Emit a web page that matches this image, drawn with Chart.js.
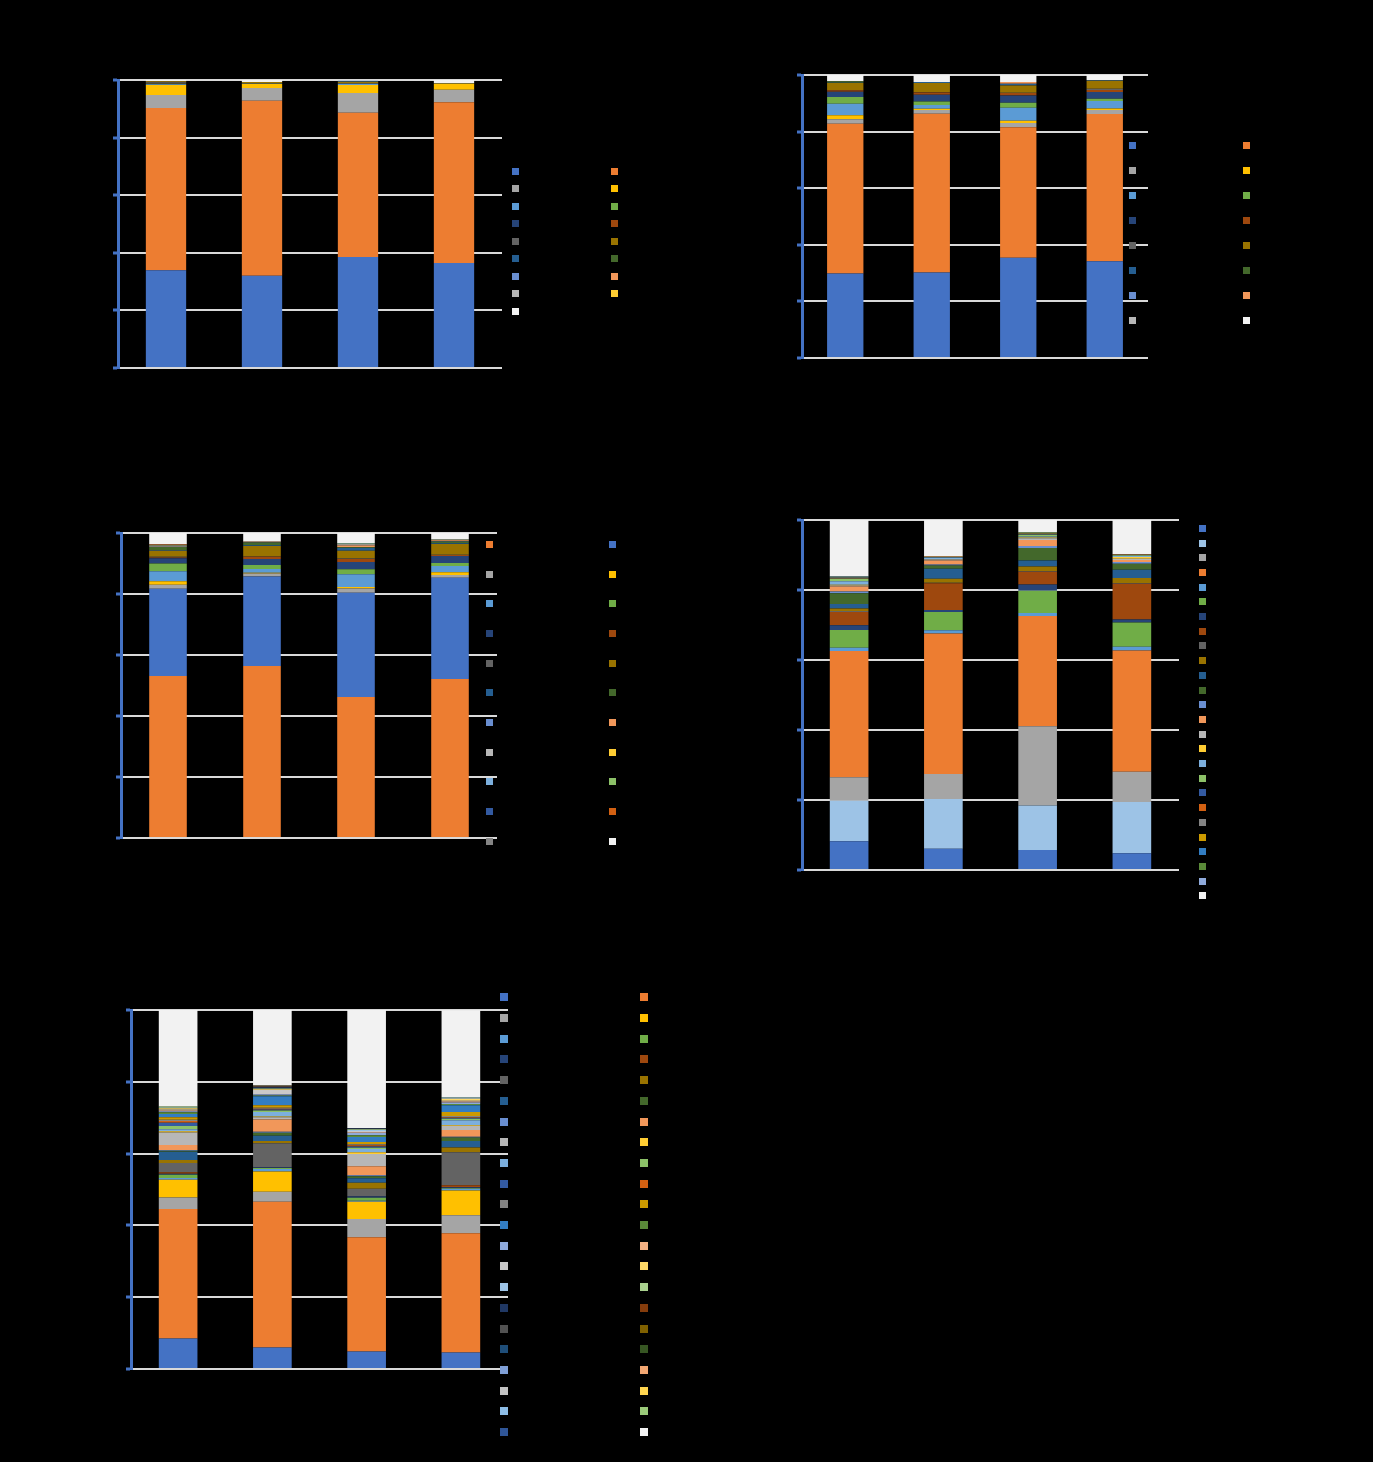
<!DOCTYPE html>
<html>
<head>
<meta charset="utf-8">
<title>Stacked shares</title>
<script src="https://cdn.jsdelivr.net/npm/chart.js@4.4.1/dist/chart.umd.min.js"></script>
<style>
  html, body { margin: 0; padding: 0; background: #000; }
  #page { position: relative; width: 1373px; height: 1462px; overflow: hidden; }
  #page canvas { position: absolute; left: 0; top: 0; }
</style>
</head>
<body>
<div id="page"></div>
<script>
// four bars per chart, values are % shares (bottom segment first)
const categories = ['1', '2', '3', '4'];
const yTicks = [0, 20, 40, 60, 80, 100];

const chart1Bars = [
  [33.9, 56.4, 4.5, 3.5, 0.2, 0.2, 0.1, 0.2, 0.2, 0.4, 0, 0, 0, 0, 0, 0, 0.4],
  [32.0, 60.8, 4.4, 1.4, 0.1, 0.1, 0, 0.1, 0, 0.4, 0, 0, 0, 0, 0, 0, 0.7],
  [38.5, 50.1, 6.9, 2.8, 0.4, 0, 0, 0, 0.1, 0.6, 0.3, 0, 0, 0, 0, 0, 0.3],
  [36.5, 55.8, 4.3, 2.1, 0.1, 0, 0, 0, 0, 0.1, 0, 0, 0, 0, 0, 0.1, 1.0]
];

const chart2Bars = [
  [29.9, 52.9, 1.6, 1.4, 4.0, 2.4, 1.9, 0.5, 0.1, 2.5, 0.1, 0.5, 0, 0, 0, 2.2],
  [30.2, 56.1, 1.3, 0.5, 1.3, 1.2, 2.4, 0.8, 0.1, 3.3, 0.3, 0, 0, 0, 0, 2.5],
  [35.4, 46.1, 1.5, 0.8, 4.6, 1.8, 2.6, 0.8, 0.1, 2.6, 0.6, 0, 0, 0.6, 0, 2.5],
  [34.2, 52.0, 1.4, 0.6, 2.6, 0.8, 2.4, 0.7, 0.4, 2.9, 0.2, 0, 0, 0, 0, 1.8]
];

const chart3Bars = [
  [53.1, 28.6, 1.3, 1.2, 3.3, 2.5, 1.7, 0.3, 0.2, 2.0, 0.2, 1.0, 0.1, 0.1, 0.1, 0.1, 0.1, 0.1, 0.1, 0.1, 0.1, 3.7],
  [56.4, 29.3, 1.0, 0.3, 1.2, 1.3, 2.0, 0.7, 0.1, 3.4, 0.3, 0.9, 0.1, 0.1, 0.1, 0, 0, 0, 0, 0, 0, 2.8],
  [46.2, 34.2, 1.4, 0.5, 4.2, 1.6, 2.4, 1.0, 0.1, 2.6, 0.9, 0.2, 0.1, 0.5, 0.4, 0.1, 0.1, 0.1, 0, 0, 0, 3.4],
  [52.1, 33.2, 0.9, 0.9, 2.1, 1.0, 2.3, 0.3, 0.1, 3.5, 0.2, 0.6, 0.2, 0.2, 0.2, 0.1, 0.1, 0, 0, 0, 0, 2.0]
];

const chart4Bars = [
  [8.2, 11.6, 6.7, 36.1, 0.9, 5.1, 1.3, 3.8, 0.3, 0.7, 1.3, 3.1, 0.5, 1.4, 0.3, 0.2, 1.0, 0.7, 0.1, 0.1, 0.1, 0.1, 0.1, 0.1, 0.1, 16.2],
  [6.1, 14.2, 7.1, 40.2, 0.9, 5.2, 0.6, 7.6, 0.2, 1.1, 2.9, 0.9, 0.3, 1.1, 0.3, 0.1, 0.4, 0.1, 0.1, 0.1, 0, 0.1, 0, 0, 0, 10.4],
  [5.7, 12.7, 22.7, 31.5, 0.8, 6.4, 1.8, 3.6, 0.2, 1.3, 1.7, 3.6, 0.6, 1.7, 0.5, 0.2, 0.3, 0.5, 0.1, 0.1, 0.1, 0.1, 0.1, 0.1, 0, 3.6],
  [4.8, 14.6, 8.7, 34.6, 1.1, 6.9, 0.9, 10.2, 0.2, 1.4, 2.4, 1.7, 0.5, 0.6, 0.3, 0.5, 0.3, 0.2, 0.1, 0.1, 0.1, 0.1, 0, 0, 0, 9.7]
];

const chart5Bars = [
  [8.5, 36.1, 3.2, 4.9, 0.5, 0.9, 0.3, 0.4, 2.6, 0.8, 2.3, 0.3, 0.2, 1.4, 3.5, 0.3, 0.6, 0.9, 0.9, 0.5, 0.3, 0.7,
   0.9, 0.5, 0.3, 0.2, 0.3, 0.3, 0.2, 0.3, 0, 0, 0, 0, 0, 0, 0, 0, 0, 0, 0, 0, 0, 26.9],
  [6.0, 40.6, 2.8, 5.6, 0.7, 0.3, 0.2, 0.1, 6.6, 0.6, 1.5, 0.8, 0.3, 3.4, 0.6, 0.2, 1.3, 0.4, 0.3, 0.2, 0.3, 0.7,
   2.5, 0.2, 0.3, 0.1, 1.1, 0.2, 0.1, 0.1, 0.4, 0.1, 0.3, 0.1, 0, 0, 0, 0, 0, 0, 0, 0, 0, 21.0],
  [4.9, 31.8, 5.1, 4.8, 0.3, 0.8, 0.4, 0.1, 2.0, 1.7, 1.2, 0.6, 0.3, 2.5, 3.4, 0.5, 0.9, 0.3, 0.4, 0.3, 0.3, 0.6,
   1.4, 0.5, 0.7, 0.2, 0.3, 0, 0.3, 0.2, 0.2, 0, 0.1, 0, 0, 0, 0, 0, 0, 0, 0, 0, 0, 32.9],
  [4.6, 33.2, 5.0, 6.9, 0.5, 0.2, 0.2, 0.6, 9.2, 1.3, 1.8, 1.0, 0.2, 1.9, 1.1, 0.2, 1.4, 0.4, 0.3, 0.2, 0.3, 1.1,
   1.9, 0.3, 0.4, 0.3, 0.2, 0.6, 0.3, 0.2, 0, 0, 0, 0, 0, 0, 0, 0, 0, 0, 0, 0, 0, 24.1]
];

// office style palette, series order as in the legends
const officeColors = [
  '#4472C4', '#ED7D31', '#A5A5A5', '#FFC000', '#5B9BD5', '#70AD47',
  '#264478', '#9E480E', '#636363', '#997300', '#255E91', '#43682B',
  '#698ED0', '#F1975A', '#B7B7B7', '#FFCD33', '#7CAFDD', '#8CC168',
  '#335AA1', '#D26012', '#848484', '#CC9A00', '#327DC2', '#5A8A39',
  '#8FAADC', '#F4B183', '#C9C9C9', '#FFD966', '#9DC3E6', '#A9D18E',
  '#203864', '#843C0C', '#525252', '#7F6000', '#1F4E79', '#375623',
  '#7F9FD6', '#F3A772', '#C3C3C3', '#FFD54F', '#8DBDE6', '#9BCB7A',
  '#2F5597'
];
const restColor = '#F2F2F2';

const chart1Colors = officeColors.slice(0, 16).concat([restColor]);
const chart2Colors = officeColors.slice(0, 15).concat([restColor]);
const chart3Colors = ['#ED7D31', '#4472C4'].concat(officeColors.slice(2, 21), [restColor]);
const chart4Colors = ['#4472C4', '#9DC3E6', '#A5A5A5', '#ED7D31'].concat(officeColors.slice(4, 25), [restColor]);
const chart5Colors = officeColors.slice(0, 43).concat([restColor]);

// small square legend, laid out row by row like the source workbook
const squareLegend = {
  id: 'squareLegend',
  afterDraw(chart, args, opts) {
    const ctx = chart.ctx;
    const s = opts.size;
    ctx.save();
    chart.data.datasets.forEach((ds, i) => {
      const col = i % opts.cols;
      const row = Math.floor(i / opts.cols);
      const x = opts.x + col * opts.dx;
      const y = opts.y + row * opts.dy;
      ctx.fillStyle = ds.backgroundColor;
      ctx.fillRect(Math.round(x - s / 2), Math.round(y - s / 2), s, s);
    });
    ctx.restore();
  }
};

const PAGE_W = 1373, PAGE_H = 1462, TICK = 5;
const page = document.getElementById('page');

function makeChart(bars, colors, plot, legend, barPct) {
  const canvas = document.createElement('canvas');
  canvas.width = PAGE_W;
  canvas.height = PAGE_H;
  canvas.style.width = PAGE_W + 'px';
  canvas.style.height = PAGE_H + 'px';
  page.appendChild(canvas);

  const datasets = colors.map((c, s) => ({
    label: 'S' + (s + 1),
    data: bars.map(b => b[s]),
    backgroundColor: c,
    borderWidth: 0,
    barPercentage: barPct,
    categoryPercentage: 1
  }));

  return new Chart(canvas, {
    type: 'bar',
    data: { labels: categories, datasets },
    plugins: [squareLegend],
    options: {
      responsive: false,
      animation: false,
      devicePixelRatio: 1,
      layout: {
        padding: {
          left: plot.left - TICK,
          top: plot.top,
          right: PAGE_W - plot.right,
          bottom: PAGE_H - plot.bottom
        }
      },
      plugins: {
        legend: { display: false },
        tooltip: { enabled: false },
        squareLegend: legend
      },
      scales: {
        x: { stacked: true, display: false },
        y: {
          stacked: true,
          min: 0,
          max: 100,
          afterBuildTicks: scale => { scale.ticks = yTicks.map(v => ({ value: v })); },
          ticks: { display: false },
          grid: {
            color: '#D9D9D9',
            lineWidth: 2,
            drawTicks: true,
            tickLength: TICK,
            tickColor: '#4472C4',
            tickWidth: 3
          },
          border: { color: '#4472C4', width: 3 }
        }
      }
    }
  });
}

makeChart(chart1Bars, chart1Colors,
  { left: 118, top: 80, right: 502, bottom: 368 },
  { x: 515, y: 171, dx: 99, dy: 17.5, cols: 2, size: 7 }, 0.42);

makeChart(chart2Bars, chart2Colors,
  { left: 802, top: 75, right: 1148, bottom: 358 },
  { x: 1132, y: 145.3, dx: 114.7, dy: 25, cols: 2, size: 7 }, 0.42);

makeChart(chart3Bars, chart3Colors,
  { left: 121, top: 533, right: 497, bottom: 838 },
  { x: 489, y: 544.3, dx: 123.3, dy: 29.7, cols: 2, size: 7 }, 0.40);

makeChart(chart4Bars, chart4Colors,
  { left: 802, top: 520, right: 1179, bottom: 870 },
  { x: 1202, y: 528.3, dx: 0, dy: 14.7, cols: 1, size: 7 }, 0.41);

makeChart(chart5Bars, chart5Colors,
  { left: 131, top: 1010, right: 508, bottom: 1369 },
  { x: 504, y: 997.3, dx: 140.3, dy: 20.7, cols: 2, size: 8 }, 0.41);
</script>
</body>
</html>
